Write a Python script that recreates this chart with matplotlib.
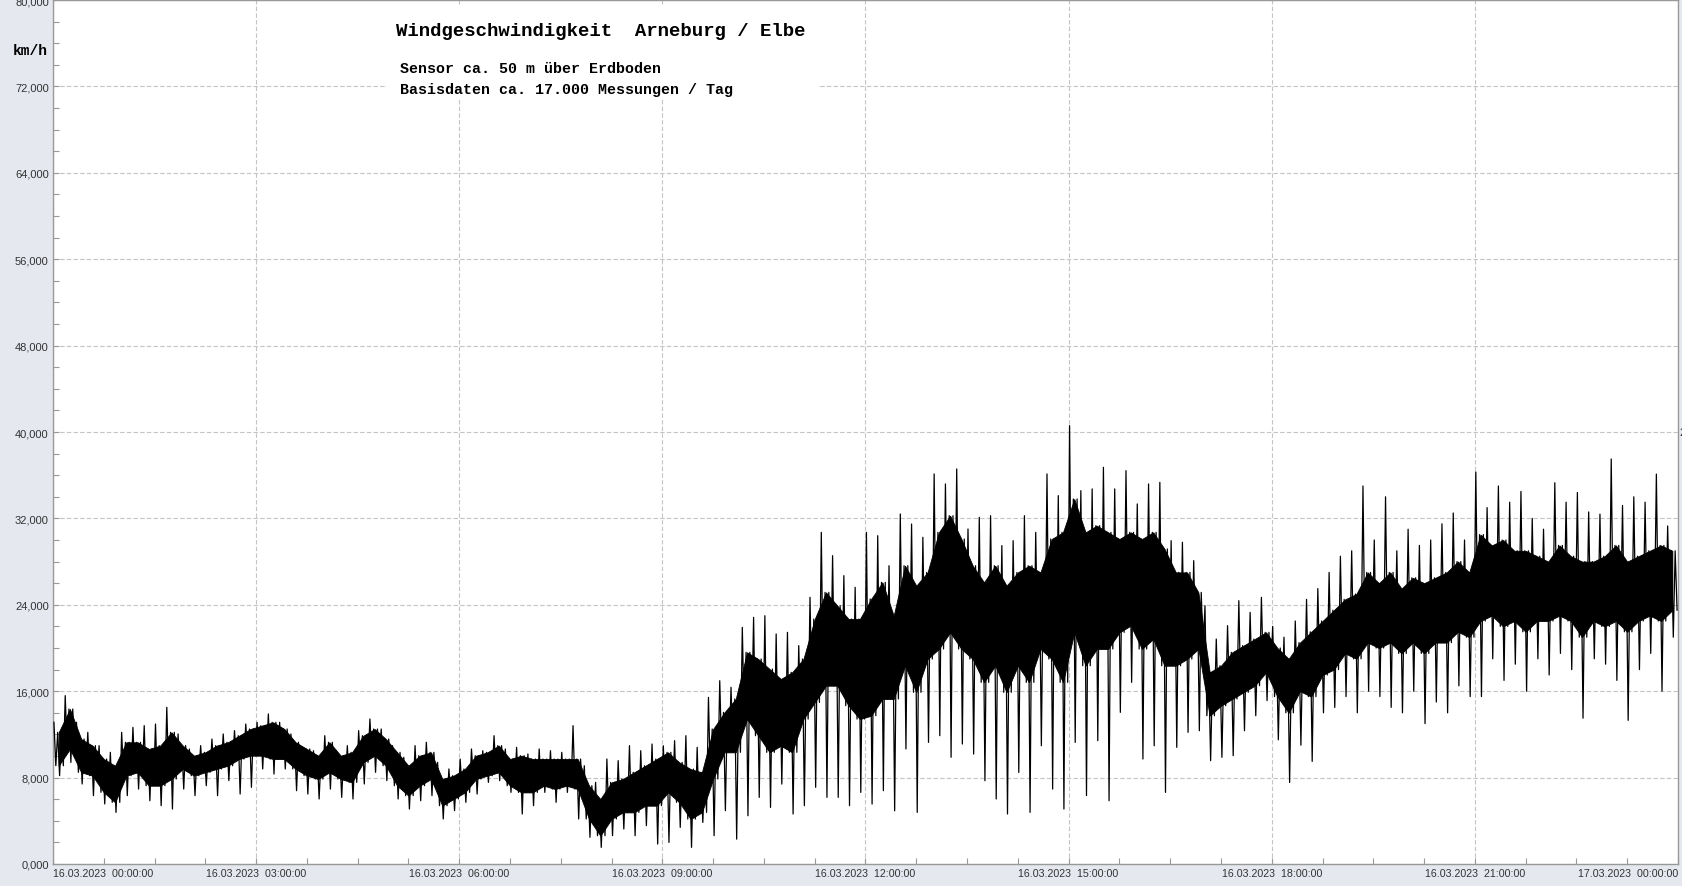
import matplotlib
matplotlib.use("Agg")
import matplotlib.pyplot as plt
from matplotlib.patches import Rectangle
from matplotlib.ticker import MultipleLocator, FixedLocator, FuncFormatter
import numpy as np

# wind speed km/h, 10-minute bins
# spikes: highest / lowest value in the bin
spd_hi = [13120, 15590, 13120, 12190, 10960, 10340, 12190, 12650, 12810, 12960, 14510, 12040, 10650, 10960, 11570, 12040, 12350, 12960,
          13120, 13890, 13120, 12040, 10800, 10490, 11880, 10490, 10960, 12350, 13430, 12500, 10960, 9880, 10960, 11270, 9410, 8800,
          9720, 10650, 10490, 11880, 10650, 10800, 10190, 10650, 10490, 10340, 12810, 9100, 7560, 9720, 9570, 10960, 10490, 11110,
          10950, 11420, 11880, 10800, 15430, 16970, 16360, 21910, 22840, 22990, 21300, 21450, 20220, 24690, 30710, 28550, 26700, 25620,
          30710, 30400, 27620, 32410, 31480, 30250, 36120, 35190, 36580, 31020, 32100, 32250, 29480, 29940, 32250, 30710, 36120, 34110,
          40590, 34570, 34730, 36730, 34730, 36420, 33340, 35190, 35340, 29940, 29790, 28090, 23920, 20830, 22070, 24380, 23300, 24690,
          22000, 21000, 22500, 24500, 25500, 27000, 28500, 29000, 35000, 30000, 34000, 29000, 31000, 29500, 30000, 31500, 32500, 30000,
          36300, 33000, 35000, 33500, 34500, 32000, 31000, 35300, 33500, 34400, 32600, 32400, 37500, 33200, 34000, 33500, 36100, 31300]
spd_lo = [8180, 9410, 7410, 6330, 5560, 4780, 6330, 6940, 5860, 5400, 5090, 6940, 6330, 7250, 6330, 7720, 6480, 7100,
          8800, 8330, 8800, 6790, 6480, 6020, 6940, 6170, 6020, 7410, 8490, 7720, 6020, 5090, 5860, 6330, 4170, 4940,
          5710, 6480, 7560, 7720, 6635, 4630, 5400, 6630, 5710, 6630, 4170, 2470, 1540, 2620, 3240, 2620, 3550, 1850,
          2000, 3390, 1540, 3850, 2620, 4940, 2300, 4470, 6170, 5240, 7400, 4630, 5400, 7100, 6170, 6170, 5400, 6630,
          5550, 6790, 4930, 10650, 4780, 11260, 11880, 9880, 11110, 10180, 7710, 6020, 4630, 8480, 4780, 10950, 6940, 5090,
          11260, 6330, 11420, 5860, 14040, 16820, 9720, 10950, 6630, 10800, 12190, 12340, 9570, 9880, 10030, 12340, 13730, 15130,
          11500, 7550, 11000, 9500, 14000, 14500, 15500, 14000, 16000, 15500, 14500, 14000, 16000, 13000, 15000, 14000, 16500, 15500,
          15500, 19000, 17000, 18500, 16000, 19000, 17500, 19500, 18000, 13500, 19000, 18500, 17000, 13300, 18000, 19500, 16000, 21000]
# dense core of the trace: upper / lower edge in the bin
core_hi = [12190, 14350, 11570, 10960, 9720, 9100, 11270, 11270, 10650, 10960, 12190, 10960, 10030, 10340, 10960, 11270, 11880, 12500,
           12810, 13120, 12500, 11270, 10650, 10030, 11270, 10030, 10340, 11880, 12500, 11570, 10340, 9100, 10030, 10340, 7870, 8180,
           8800, 10030, 10340, 10960, 9720, 10030, 9720, 9720, 9720, 9720, 9720, 7250, 6020, 7560, 7870, 8490, 9100, 9720,
           10340, 9410, 8790, 8480, 12500, 14040, 15280, 19600, 18980, 18050, 17130, 17750, 18980, 22680, 25150, 23920, 22680, 22680,
           24540, 26080, 22990, 27620, 25770, 27000, 30710, 32250, 30090, 27620, 26080, 27620, 25770, 27000, 27620, 27000, 30090, 30710,
           33800, 30710, 31330, 30710, 30090, 30710, 30090, 30710, 29170, 27000, 27000, 25150, 17750, 18360, 19600, 20220, 20830, 21450,
           20000, 19000, 20500, 21500, 22500, 23500, 24500, 25000, 27000, 26000, 27000, 25500, 26500, 26000, 26500, 27000, 28000, 27000,
           30500, 29500, 30000, 29000, 29000, 28500, 28000, 29500, 28500, 28000, 28000, 28500, 29500, 28000, 28500, 29000, 29500, 29000]
core_lo = [9100, 10650, 8490, 8180, 6640, 5710, 8180, 8490, 7250, 7250, 7870, 8800, 8180, 8490, 8800, 9100, 9720, 10030,
           10030, 9720, 9720, 8800, 8180, 7870, 8490, 7870, 7560, 9410, 10030, 9100, 7250, 6330, 7250, 7870, 5400, 6020,
           6630, 7870, 8180, 8490, 7250, 6630, 6630, 7250, 6940, 7250, 6940, 4170, 2620, 4170, 4780, 4780, 5400, 5400,
           6630, 5710, 4160, 4780, 7870, 10340, 10340, 13420, 11880, 10340, 10950, 10340, 13420, 14960, 16510, 16510, 14660, 13420,
           13730, 15280, 15280, 18360, 15900, 18980, 19910, 21450, 19910, 18980, 16820, 18360, 15900, 18360, 16820, 19910, 18980, 16820,
           21450, 18360, 19910, 19910, 21450, 22070, 19910, 20830, 18360, 18360, 18980, 19910, 13730, 14660, 15280, 15900, 16510, 17750,
           15500, 14000, 16000, 15500, 17500, 18000, 19500, 19000, 20500, 20000, 20500, 19500, 20500, 19500, 20500, 20500, 21500, 21000,
           22500, 23000, 22000, 22500, 21500, 22500, 22500, 23000, 22500, 21000, 22500, 22000, 22500, 21500, 22500, 23000, 22500, 23500]

hours = [0, 3, 6, 9, 12, 15, 18, 21, 24]
hour_labels = ["16.03.2023  00:00:00", "16.03.2023  03:00:00", "16.03.2023  06:00:00",
               "16.03.2023  09:00:00", "16.03.2023  12:00:00", "16.03.2023  15:00:00",
               "16.03.2023  18:00:00", "16.03.2023  21:00:00", "17.03.2023  00:00:00"]

bg = "#e6e8f0"
W, H = 1683, 887
fig = plt.figure(figsize=(W / 100, H / 100), dpi=100, facecolor=bg)
ax = fig.add_axes([53 / W, 1 - 865 / H, 1625 / W, 864 / H])
ax.set_facecolor("white")

# dense trace: inside every 10 min bin go spike up, core, spike down, core
nb = len(spd_hi)
seq = np.column_stack([spd_hi, core_lo, core_hi, spd_lo, core_hi, core_lo]).ravel()
t = (np.arange(seq.size) + 0.5) / 36.0
ax.plot(t, seq, color="black", lw=0.9, zorder=3)

# solid black core
tc = (np.arange(nb) + 0.5) / 6.0
ax.fill_between(tc, core_lo, core_hi, color="black", lw=0.6, edgecolor="black", zorder=2)

ax.set_xlim(0, 24)
ax.set_ylim(0, 80000)

ax.yaxis.set_major_locator(MultipleLocator(8000))
ax.yaxis.set_minor_locator(MultipleLocator(2000))
ax.yaxis.set_major_formatter(FuncFormatter(lambda x, p: f"{int(x) // 1000},000"))
ax.xaxis.set_major_locator(FixedLocator(hours))
ax.xaxis.set_minor_locator(MultipleLocator(0.75))
ax.set_xticklabels(hour_labels)

ax.tick_params(which="both", direction="in", length=4, width=0.8, color="#999999")
ax.tick_params(axis="y", labelsize=8, labelcolor="#333333", pad=3)
ax.tick_params(axis="x", labelsize=7.7, labelcolor="#333333", pad=3)
for lab in ax.get_yticklabels() + ax.get_xticklabels():
    lab.set_fontfamily("Liberation Sans")
ylabs = ax.get_yticklabels()
ylabs[0].set_va("bottom")
ylabs[-1].set_va("top")
xlabs = ax.get_xticklabels()
xlabs[0].set_ha("left")
xlabs[-1].set_ha("right")

ax.grid(True, which="major", color="#c4c4c4", lw=0.8, ls=(0, (4, 2)))
ax.set_axisbelow(True)
for s in ax.spines.values():
    s.set_color("#999999")
    s.set_linewidth(1.0)

# white box behind the title block
ax.add_patch(Rectangle((387 / W, 1 - 100 / H), 433 / W, 93 / H, transform=fig.transFigure,
                       facecolor="white", edgecolor="none", zorder=1))

mono = "Liberation Mono"
fig.text(396 / W, 1 - 32 / H, "Windgeschwindigkeit  Arneburg / Elbe", family=mono,
         weight="bold", fontsize=13.7, ha="left", va="center")
fig.text(400 / W, 1 - 69 / H, "Sensor ca. 50 m über Erdboden", family=mono,
         weight="bold", fontsize=10.8, ha="left", va="center")
fig.text(400 / W, 1 - 90 / H, "Basisdaten ca. 17.000 Messungen / Tag", family=mono,
         weight="bold", fontsize=10.8, ha="left", va="center")
fig.text(30 / W, 1 - 51 / H, "km/h", family=mono, weight="bold", fontsize=10.5,
         ha="center", va="center")
fig.text(1679 / W, 1 - 433 / H, "2", family="Liberation Sans", fontsize=8,
         color="#333333", ha="left", va="center")

fig.savefig("out.png", dpi=100, facecolor=bg)
